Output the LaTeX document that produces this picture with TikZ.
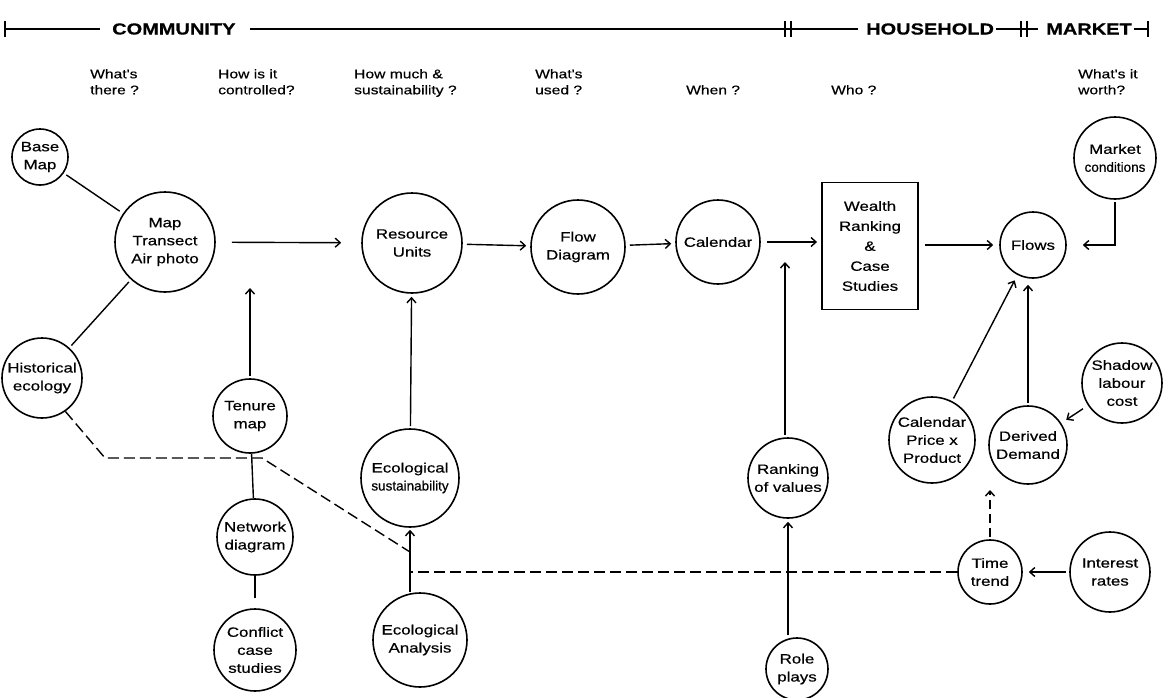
\documentclass[tikz,border=0pt]{standalone}
\usepackage{fontspec}
\setmainfont{Liberation Sans}
\newfontfamily\widefont[FakeStretch=1.25,FakeBold=0.5]{Liberation Sans}
\newfontfamily\narrowfont[FakeBold=0.5]{Liberation Sans}
\usetikzlibrary{arrows.meta}
\begin{document}
\begin{tikzpicture}[x=1pt,y=-1pt,
  circ/.style={circle,draw,line width=1.6pt,align=center,inner sep=0pt,font=\widefont\fontsize{13.5}{18}\selectfont},
  boxn/.style={rectangle,draw,line width=1.9pt,align=center,inner sep=0pt,font=\widefont\fontsize{13.5}{20}\selectfont},
  arr/.style={line width=1.4pt,-{Straight Barb[length=5pt,width=9pt,line width=1.4pt]}},
  link/.style={line width=1.4pt},
  dashline/.style={line width=1.4pt,dash pattern=on 11pt off 5pt},
  quest/.style={anchor=north west,align=left,font=\widefont\fontsize{12.5}{16}\selectfont,inner sep=0pt},
  head/.style={font=\widefont\bfseries\fontsize{16}{16}\selectfont,inner sep=0pt,anchor=west},
  hline/.style={line width=1.3pt}
]
\useasboundingbox (0,0) rectangle (1176,697);

% header bar
\node[head] (comm) at (112,29) {COMMUNITY};
\node[head] (house) at (866,29) {HOUSEHOLD};
\node[head] (mark) at (1046,29) {MARKET};
\coordinate (l0) at (5,29);
\coordinate (t1) at (788,29);
\coordinate (t2) at (1024,29);
\coordinate (r0) at (1148,29);
\draw[hline] (5,21) -- (5,37);
\draw[hline] (l0) -- ([xshift=-12pt]comm.west);
\draw[hline] ([xshift=14pt]comm.east) -- (t1);
\draw[hline] ([xshift=-3pt]t1) ++(0,-8) -- ++(0,16);
\draw[hline] ([xshift=3pt]t1) ++(0,-8) -- ++(0,16);
\draw[hline] (t1) -- ([xshift=-8pt]house.west);
\draw[hline] ([xshift=2pt]house.east) -- (t2);
\draw[hline] ([xshift=-3pt]t2) ++(0,-8) -- ++(0,16);
\draw[hline] ([xshift=3pt]t2) ++(0,-8) -- ++(0,16);
\draw[hline] (t2) -- ([xshift=-8pt]mark.west);
\draw[hline] ([xshift=2pt]mark.east) -- (r0);
\draw[hline] (1148,21) -- (1148,37);

% questions
\node[quest] (q1) at (90,69) {What's\\there ?};
\node[quest] (q2) at (218,69) {How is it\\controlled?};
\node[quest] (q3) at (354,69) {How much \&\\sustainability ?};
\node[quest] (q4) at (535,69) {What's\\used ?};
\node[quest] (q5) at (686,85) {When ?};
\node[quest] (q6) at (831,85) {Who ?};
\node[quest] (q7) at (1078,69) {What's it\\worth?};

% nodes
\node[circ,minimum size=56pt] (base) at (40,157) {Base\\Map};
\node[circ,minimum size=100pt] (map) at (165,242) {Map\\Transect\\Air photo};
\node[circ,minimum size=80pt] (hist) at (42,378) {Historical\\ecology};
\node[circ,minimum size=74pt] (tenure) at (250,416) {Tenure\\map};
\node[circ,minimum size=76pt] (network) at (255,537) {Network\\diagram};
\node[circ,minimum size=82pt] (conflict) at (255,650) {Conflict\\case\\studies};
\node[circ,minimum size=100pt] (res) at (412,243) {Resource\\Units};
\node[circ,minimum size=98pt] (ecosus) at (410,478) {Ecological\\{\narrowfont\fontsize{13.5}{18}\selectfont sustainability}};
\node[circ,minimum size=94pt] (ecoan) at (420,640) {Ecological\\Analysis};
\node[circ,minimum size=94pt] (flowd) at (578,247) {Flow\\Diagram};
\node[circ,minimum size=84pt] (cal) at (718,242) {Calendar};
\node[circ,minimum size=80pt] (rank) at (788,478) {Ranking\\of values};
\node[circ,minimum size=62pt] (role) at (797,669) {Role\\plays};
\node[boxn,minimum width=96pt,minimum height=127pt] (wealth) at (870,246) {Wealth\\Ranking\\\&\\Case\\Studies};
\node[circ,minimum size=66pt] (flows) at (1033,245) {Flows};
\node[circ,minimum size=82pt] (market) at (1115,158) {Market\\{\narrowfont\fontsize{13.5}{18}\selectfont conditions}};
\node[circ,minimum size=80pt] (shadow) at (1122,383) {Shadow\\labour\\cost};
\node[circ,minimum size=86pt] (calprice) at (932,440) {Calendar\\Price x\\Product};
\node[circ,minimum size=78pt] (derived) at (1028,445) {Derived\\Demand};
\node[circ,minimum size=64pt] (time) at (990,572) {Time\\trend};
\node[circ,minimum size=80pt] (interest) at (1110,572) {Interest\\rates};

% connectors
\draw[link,shorten <=3pt,shorten >=4pt] (base) -- (map);
\draw[link,shorten <=3pt,shorten >=3pt] (map) -- (hist);
\draw[arr,shorten <=16pt,shorten >=20pt] (map) -- (res);
\coordinate (tup) at (250,288);
\draw[arr,shorten <=2pt] (tenure.north) -- (tup);
\draw[arr,shorten <=2pt,shorten >=3pt] (ecosus) -- (res);
\draw[arr,shorten <=4pt,shorten >=4pt] (res) -- (flowd);
\draw[arr,shorten <=4pt,shorten >=4pt] (flowd) -- (cal);
\draw[arr,shorten <=6pt,shorten >=4pt] (cal.east) -- (wealth.west |- cal.east);
\coordinate (rup) at (785,262);
\draw[arr,shorten <=2pt] (rank.north -| rup) -- (rup);
\draw[arr,shorten <=2pt,shorten >=3pt] (role.north -| rank.south) -- (rank.south);
\draw[arr,shorten <=6pt,shorten >=6pt] (wealth.east |- flows.west) -- (flows.west);
\draw[arr,shorten <=2pt,shorten >=16pt] (market.south) |- (flows.east);
\draw[arr,shorten <=3pt,shorten >=6pt] (calprice) -- (flows);
\draw[arr,shorten <=2pt,shorten >=6pt] (derived.north) -- (derived.north |- flows.south);
\draw[arr,shorten <=6pt,shorten >=6pt] (shadow) -- (derived);
\coordinate (tt) at (990,490);
\draw[arr,dash pattern=on 9pt off 5pt,shorten <=2pt] (time.north) -- (tt);
\draw[arr,shorten <=3pt,shorten >=6pt] (interest) -- (time);
\draw[link] (tenure) -- (network);
\draw[link,shorten >=10pt] (network) -- (conflict);
\draw[arr,shorten >=2pt] (ecoan.north -| ecosus.south) -- (ecosus.south);
\draw[dashline] (time.west) -- (time.west -| ecosus.south);
\coordinate (d1) at (105,458);
\coordinate (d2) at (262,458);
\coordinate (d3) at (410,552);
\draw[dashline] (hist.-55) -- (d1) -- (d2) -- (d3);
\end{tikzpicture}
\end{document}
